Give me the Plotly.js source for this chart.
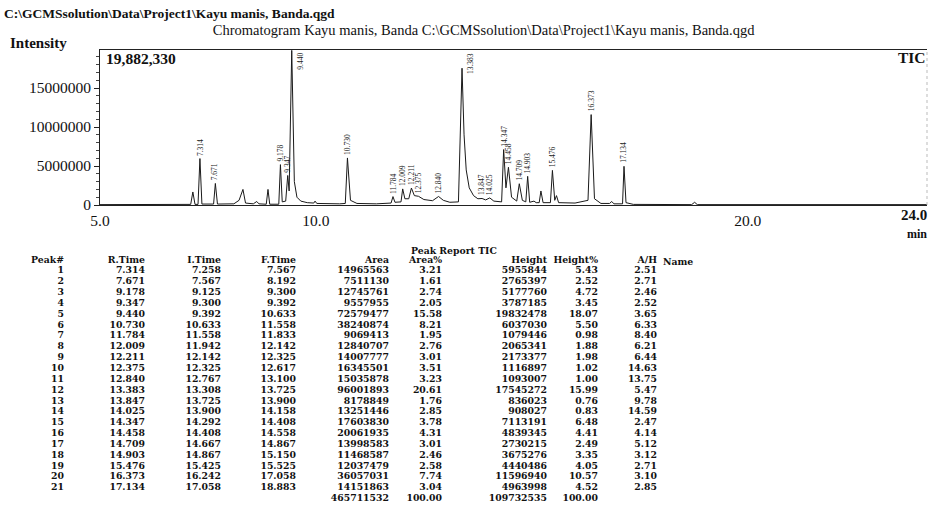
<!DOCTYPE html>
<html>
<head>
<meta charset="utf-8">
<script src="https://cdn.plot.ly/plotly-3.0.1.min.js"></script>
<style>html,body{margin:0;padding:0;background:#fff;}#chart{width:930px;height:508px;}</style>
</head>
<body>
<div id="chart"></div>
<script>
// ---------- Peak report table data ----------
const peakNo    = [1,2,3,4,5,6,7,8,9,10,11,12,13,14,15,16,17,18,19,20,21];
const rTime     = [7.314,7.671,9.178,9.347,9.440,10.730,11.784,12.009,12.211,12.375,12.840,13.383,13.847,14.025,14.347,14.458,14.709,14.903,15.476,16.373,17.134];
const iTime     = [7.258,7.567,9.125,9.300,9.392,10.633,11.558,11.942,12.142,12.325,12.767,13.308,13.725,13.900,14.292,14.408,14.667,14.867,15.425,16.242,17.058];
const fTime     = [7.567,8.192,9.300,9.392,10.633,11.558,11.833,12.142,12.325,12.617,13.100,13.725,13.900,14.158,14.408,14.558,14.867,15.150,15.525,17.058,18.883];
const area      = [14965563,7511130,12745761,9557955,72579477,38240874,9069413,12840707,14007777,16345501,15035878,96001893,8178849,13251446,17603830,20061935,13998583,11468587,12037479,36057031,14151863];
const areaPct   = [3.21,1.61,2.74,2.05,15.58,8.21,1.95,2.76,3.01,3.51,3.23,20.61,1.76,2.85,3.78,4.31,3.01,2.46,2.58,7.74,3.04];
const height    = [5955844,2765397,5177760,3787185,19832478,6037030,1079446,2065341,2173377,1116897,1093007,17545272,836023,908027,7113191,4839345,2730215,3675276,4440486,11596940,4963998];
const heightPct = [5.43,2.52,4.72,3.45,18.07,5.50,0.98,1.88,1.98,1.02,1.00,15.99,0.76,0.83,6.48,4.41,2.49,3.35,4.05,10.57,4.52];
const aOverH    = [2.51,2.71,2.46,2.52,3.65,6.33,8.40,6.21,6.44,14.63,13.75,5.47,9.78,14.59,2.47,4.14,5.12,3.12,2.71,3.10,2.85];
const areaTotal = 465711532;
const heightTotal = 109732535;
const pctTotal = 100.00;
const tableHeaders = ["Peak#","R.Time","I.Time","F.Time","Area","Area%","Height","Height%","A/H"];

// ---------- Chromatogram axis ticks ----------
const xTickVals = [5, 10, 20];
const xTickText = ['5.0', '10.0', '20.0'];
const xEndLabel = '24.0';
const yTickVals = [0, 5000000, 10000000, 15000000];
const yTop = 19882330;

// ---------- Chromatogram trace shape (besides labelled apexes) ----------
const shapeTime = [5.0,6.95,7.10,7.15,7.20,7.27,7.36,7.63,7.72,8.10,8.22,8.31,8.37,8.55,8.63,8.68,8.85,8.89,8.93,9.14,9.22,9.30,9.38,9.50,9.56,9.65,9.80,9.95,9.98,10.02,10.55,10.68,10.80,10.95,11.40,11.74,11.83,11.97,12.06,12.15,12.28,12.50,12.70,12.95,13.10,13.30,13.43,13.48,13.55,13.65,13.75,13.93,14.12,14.30,14.40,14.53,14.65,14.78,14.86,14.95,15.05,15.10,15.17,15.21,15.26,15.43,15.53,15.57,15.62,16.00,16.30,16.45,16.60,16.80,16.85,16.90,17.10,17.18,17.35,18.70,18.77,18.83,24.15];
const shapeInt  = [50000,50000,80000,1670000,80000,80000,120000,120000,120000,150000,600000,2000000,250000,150000,450000,150000,100000,2000000,100000,100000,400000,500000,1800000,3000000,1000000,500000,300000,250000,500000,200000,150000,200000,600000,200000,150000,250000,350000,400000,800000,800000,1200000,700000,550000,600000,350000,400000,9000000,4500000,2200000,1200000,800000,650000,500000,400000,2200000,1000000,500000,600000,400000,350000,500000,300000,300000,1800000,300000,300000,600000,1200000,300000,250000,600000,800000,200000,200000,450000,150000,150000,300000,80000,50000,350000,50000,50000];

// merge shape points with labelled apexes
const pts = [];
shapeTime.forEach((t,i)=>pts.push([t, shapeInt[i]]));
rTime.forEach((t,i)=>pts.push([t, height[i]]));
pts.sort((a,b)=>a[0]-b[0]);
const chromX = pts.map(p=>p[0]);
const chromY = pts.map(p=>p[1]);

const W = 930, H = 508;
const serif = "Liberation Serif, Times New Roman, serif";
const tblFamily = "DejaVu Serif, Liberation Serif, serif";

const traces = [];
traces.push({
  x: chromX, y: chromY, type: 'scatter', mode: 'lines',
  line: {color: '#1a1a1a', width: 1}, hoverinfo: 'skip', xaxis: 'x', yaxis: 'y'
});
// peak boundary ticks
traces.push({
  x: iTime.concat(fTime), y: iTime.concat(fTime).map(()=>-450000),
  type: 'scatter', mode: 'markers', cliponaxis: false,
  marker: {symbol: 'line-ns-open', size: 7, line: {color: '#333', width: 1}},
  hoverinfo: 'skip', xaxis: 'x', yaxis: 'y'
});

// ---------- Table as text traces on a pixel axis ----------
const colRight = [64,145,221,296,389,442,547,598,657];
const headerY = 261, row1Y = 271, rowStep = 10.85;
const rowY = peakNo.map((_,i)=>row1Y + i*rowStep);
const tblFont = {family: tblFamily, size: 9.3, color: '#111', weight: 'bold'};
const columns = [
  peakNo.map(String),
  rTime.map(v=>v.toFixed(3)),
  iTime.map(v=>v.toFixed(3)),
  fTime.map(v=>v.toFixed(3)),
  area.map(String),
  areaPct.map(v=>v.toFixed(2)),
  height.map(String),
  heightPct.map(v=>v.toFixed(2)),
  aOverH.map(v=>v.toFixed(2))
];
columns.forEach((col,c)=>{
  traces.push({
    x: col.map(()=>colRight[c]), y: rowY, text: col,
    type: 'scatter', mode: 'text', textposition: 'middle left',
    textfont: tblFont, hoverinfo: 'skip', xaxis: 'x2', yaxis: 'y2', cliponaxis: false
  });
});
// headers
traces.push({
  x: colRight, y: colRight.map(()=>headerY), text: tableHeaders,
  type: 'scatter', mode: 'text', textposition: 'middle left',
  textfont: tblFont, hoverinfo: 'skip', xaxis: 'x2', yaxis: 'y2', cliponaxis: false
});
// totals row
const totalY = row1Y + peakNo.length*rowStep;
traces.push({
  x: [colRight[4], colRight[5], colRight[6], colRight[7]],
  y: [totalY,totalY,totalY,totalY],
  text: [String(areaTotal), pctTotal.toFixed(2), String(heightTotal), pctTotal.toFixed(2)],
  type: 'scatter', mode: 'text', textposition: 'middle left',
  textfont: tblFont, hoverinfo: 'skip', xaxis: 'x2', yaxis: 'y2', cliponaxis: false
});

// ---------- Annotations ----------
const ann = [];
rTime.forEach((t,i)=>{
  const big = height[i] > 15000000;
  ann.push({
    x: t, y: big ? yTop : height[i], xref: 'x', yref: 'y',
    text: t.toFixed(3), showarrow: false, textangle: -90,
    xanchor: big ? 'left' : 'center', yanchor: big ? 'top' : 'bottom',
    xshift: big ? 2 : 0, yshift: big ? -1 : 1,
    font: {family: serif, size: 7.5, color: '#222'}
  });
});
const pxAnn = (x,y,text,opts)=>Object.assign({
  x: x/W, y: 1 - y/H, xref: 'paper', yref: 'paper', text: text, showarrow: false,
  xanchor: 'left', yanchor: 'middle', font: {family: serif, size: 15, color: '#111'}
}, opts||{});
ann.push(pxAnn(2, 14, '<b>C:\\GCMSsolution\\Data\\Project1\\Kayu manis, Banda.qgd</b>', {font:{family: serif, size: 13.5, color:'#111'}}));
ann.push(pxAnn(8, 43, '<b>Intensity</b>', {font:{family: serif, size: 15, color:'#111'}}));
ann.push(pxAnn(104, 58, '<b>19,882,330</b>', {font:{family: serif, size: 15.5, color:'#111'}}));
ann.push(pxAnn(928, 57, '<b>TIC</b>', {xanchor:'right', font:{family: serif, size: 15.5, color:'#111'}}));
ann.push(pxAnn(929, 215, '<b>' + xEndLabel + '</b>', {xanchor:'right', font:{family: serif, size: 15, color:'#111'}}));
ann.push(pxAnn(929, 234, '<b>min</b>', {xanchor:'right', font:{family: serif, size: 12, color:'#111'}}));
ann.push(pxAnn(454, 250, 'Peak Report TIC', {xanchor:'center', font:{family: tblFamily, size: 9.3, color:'#111', weight: 'bold'}}));
ann.push(pxAnn(661, headerY, 'Name', {font: tblFont}));

const layout = {
  width: W, height: H,
  margin: {l:0, r:0, t:0, b:0},
  paper_bgcolor: '#fff', plot_bgcolor: 'rgba(0,0,0,0)',
  showlegend: false,
  title: {
    text: 'Chromatogram Kayu manis, Banda C:\\GCMSsolution\\Data\\Project1\\Kayu manis, Banda.qgd',
    x: 0.52, xanchor: 'center', y: 1 - 30/H, yanchor: 'middle', yref: 'container',
    font: {family: serif, size: 14.5, color: '#111'}
  },
  xaxis: {
    domain: [100/W, 927/W], range: [5, 24.15],
    tickvals: xTickVals, ticktext: xTickText,
    ticks: '', ticklabelstandoff: 1,
    showline: true, linecolor: '#222', linewidth: 1, mirror: true,
    showgrid: false, zeroline: false,
    tickfont: {family: serif, size: 15.5, color: '#111'}, tickprefix: '<b>', ticksuffix: '</b>'
  },
  yaxis: {
    domain: [1 - 205/H, 1 - 50/H], range: [0, yTop],
    tickvals: yTickVals,
    ticktext: yTickVals.map(String),
    ticks: 'outside', ticklen: 5, tickcolor: '#222',
    minor: {dtick: 1000000, ticks: 'outside', ticklen: 3, tickcolor: '#444', showgrid: false},
    showline: true, linecolor: '#222', linewidth: 1,
    showgrid: false, zeroline: false,
    tickfont: {family: serif, size: 15.5, color: '#111'}, tickprefix: '<b>', ticksuffix: '</b>'
  },
  xaxis2: {domain: [0,1], range: [0, W], visible: false, fixedrange: true},
  yaxis2: {domain: [0,1], range: [H, 0], visible: false, fixedrange: true},
  shapes: [{type: 'line', xref: 'paper', yref: 'paper', x0: 927/W, x1: 927/W, y0: 1-205/H, y1: 1-50/H,
            line: {color: '#bbb', width: 1, dash: 'dot'}}],
  annotations: ann
};

Plotly.newPlot('chart', traces, layout, {staticPlot: true, displayModeBar: false});
</script>
</body>
</html>
